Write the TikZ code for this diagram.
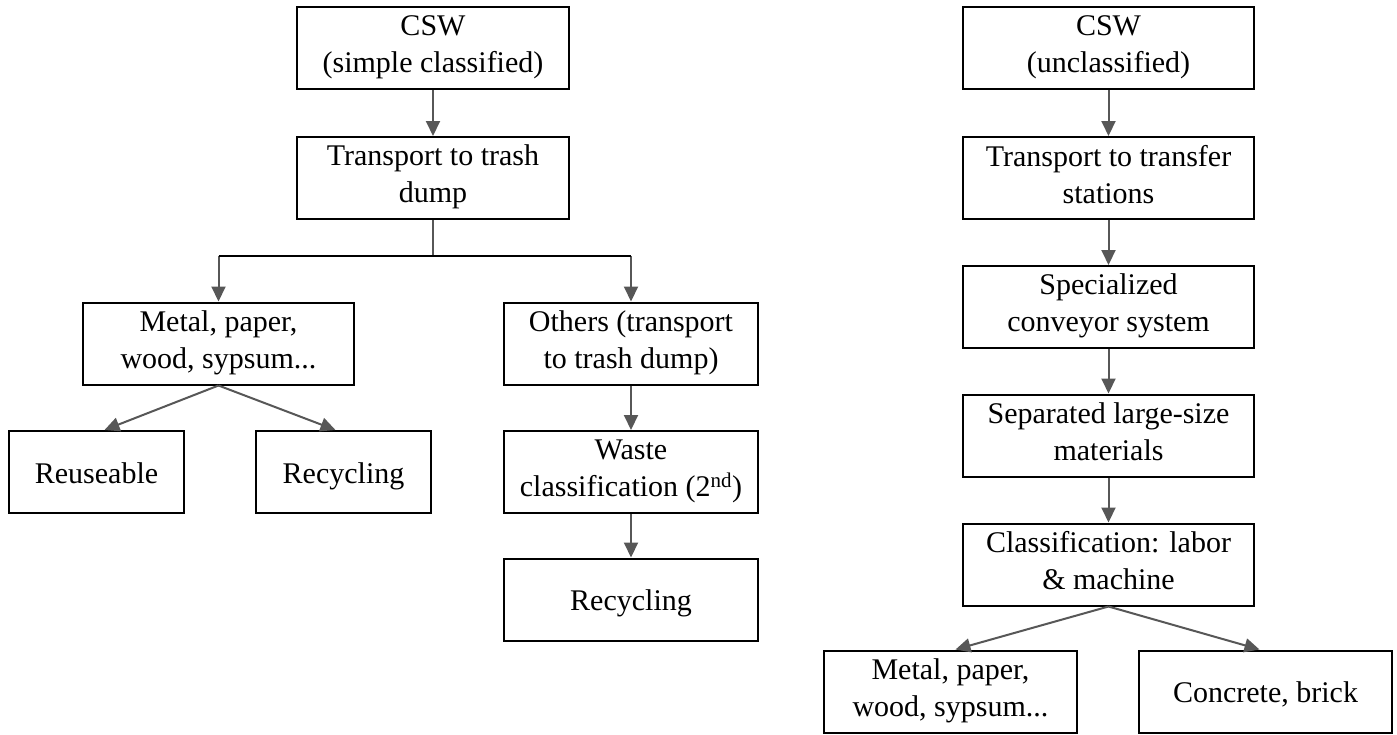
\documentclass[tikz,border=0pt]{standalone}
\usepackage{fontspec}
\setmainfont{Liberation Serif}
\usetikzlibrary{arrows.meta}
\definecolor{arr}{HTML}{575757}
\newcommand{\boxstrut}{\rule[-8pt]{0pt}{38pt}}
\begin{document}
\begin{tikzpicture}[x=1pt,y=-1pt,
  box/.style={draw=black, line width=2pt, align=center, inner sep=0pt,
    minimum height=82pt, font=\fontsize{30}{37}\selectfont,
    execute at begin node=\boxstrut, execute at end node=\boxstrut},
  conn/.style={draw=arr, line width=2pt},
  arrow/.style={conn, -{Triangle[width=14pt,length=15pt]}},
  bar/.style={draw=black, line width=2pt}]
\useasboundingbox (0,0) rectangle (1397,734);
% left tree
\node[box, minimum width=272pt] (csw1) at (433,48) {CSW\\(simple classified)};
\node[box, minimum width=272pt] (tr1) at (433,178) {Transport to trash\\dump};
\node[box, minimum width=271pt] (metal1) at (218.5,343.5) {Metal, paper,\\wood, sypsum...};
\node[box, minimum width=254pt] (others) at (631,343.5) {Others (transport\\to trash dump)};
\node[box, minimum width=175pt] (reuse) at (96.5,472) {Reuseable};
\node[box, minimum width=175pt] (recyc1) at (343.5,472) {Recycling};
\node[box, minimum width=254pt] (waste) at (631,472) {Waste\\classification (2\textsuperscript{nd})};
\node[box, minimum width=254pt] (recyc2) at (631,599.5) {Recycling};
\coordinate (jm) at (433,256);
\coordinate (jl) at (218.5,256);
\coordinate (jr) at (631,256);
\draw[arrow] (csw1.south) -- (tr1.north);
\draw[conn] (tr1.south) -- (jm);
\draw[arrow] (jl) -- (metal1.north);
\draw[arrow] (jr) -- (others.north);
\draw[bar] (jl) -- (jr);
\draw[arrow] (metal1.south) -- ([xshift=8pt]reuse.north);
\draw[arrow] (metal1.south) -- ([xshift=-8pt]recyc1.north);
\draw[arrow] (others.south) -- (waste.north);
\draw[arrow] (waste.south) -- (recyc2.north);
% right tree
\node[box, minimum width=291pt] (csw2) at (1108.5,48) {CSW\\(unclassified)};
\node[box, minimum width=291pt] (tr2) at (1108.5,178) {Transport to transfer\\stations};
\node[box, minimum width=291pt] (spec) at (1108.5,307) {Specialized\\conveyor system};
\node[box, minimum width=291pt] (sep) at (1108.5,435.5) {Separated large-size\\materials};
\node[box, minimum width=291pt] (cls) at (1108.5,564.5) {Classification: labor\\\& machine};
\node[box, minimum width=253pt] (metal2) at (950.5,691.5) {Metal, paper,\\wood, sypsum...};
\node[box, minimum width=253pt] (conc) at (1265.5,691.5) {Concrete, brick};
\draw[arrow] (csw2.south) -- (tr2.north);
\draw[arrow] (tr2.south) -- (spec.north);
\draw[arrow] (spec.south) -- (sep.north);
\draw[arrow] (sep.south) -- (cls.north);
\draw[arrow] (cls.south) -- ([xshift=5pt]metal2.north);
\draw[arrow] (cls.south) -- ([xshift=-6pt]conc.north);
\end{tikzpicture}
\end{document}
